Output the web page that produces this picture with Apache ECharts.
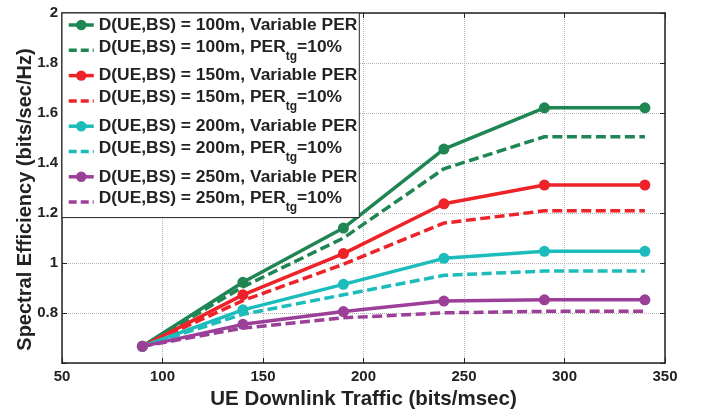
<!DOCTYPE html>
<html>
<head>
<meta charset="utf-8">
<script src="https://cdn.jsdelivr.net/npm/echarts@6/dist/echarts.min.js"></script>
<style>
  html, body { margin: 0; padding: 0; background: #fff; }
  #chart { width: 703px; height: 415px; }
</style>
</head>
<body>
<div id="chart"></div>
<script>
// x values (bits/msec)
var traffic = [90, 140, 190, 240, 290, 340];

// spectral efficiency, one array per curve
var d100Var = [0.667, 0.923, 1.140, 1.456, 1.621, 1.621];
var d100Tg  = [0.667, 0.905, 1.100, 1.377, 1.505, 1.505];
var d150Var = [0.667, 0.873, 1.038, 1.237, 1.312, 1.312];
var d150Tg  = [0.667, 0.850, 0.995, 1.160, 1.209, 1.209];
var d200Var = [0.667, 0.813, 0.915, 1.019, 1.047, 1.047];
var d200Tg  = [0.667, 0.795, 0.873, 0.951, 0.968, 0.968];
var d250Var = [0.667, 0.755, 0.806, 0.848, 0.853, 0.853];
var d250Tg  = [0.667, 0.740, 0.781, 0.801, 0.807, 0.807];

var distances = ['100m', '150m', '200m', '250m'];
var colors = ['#1e8553', '#ee2229', '#1cbcbc', '#9c3f98'];
var varData = [d100Var, d150Var, d200Var, d250Var];
var tgData = [d100Tg, d150Tg, d200Tg, d250Tg];

function pairs(ys) {
  return ys.map(function (y, i) { return [traffic[i], y]; });
}

var FONT = '"Liberation Sans", Arial, Helvetica, sans-serif';
var series = [];
var legendData = [];

for (var i = 0; i < distances.length; i++) {
  var nameVar = 'D(UE,BS) = ' + distances[i] + ', Variable PER';
  var nameTg = 'D(UE,BS) = ' + distances[i] + ', PER_tg=10%';
  series.push({
    name: nameVar,
    type: 'line',
    data: pairs(varData[i]),
    symbol: 'circle',
    symbolSize: 11,
    lineStyle: { color: colors[i], width: 3.5 },
    itemStyle: { color: colors[i] },
    animation: false
  });
  series.push({
    name: nameTg,
    type: 'line',
    data: pairs(tgData[i]),
    showSymbol: false,
    symbol: 'circle',
    lineStyle: { color: colors[i], width: 3.5, type: [10, 4.5] },
    itemStyle: { color: colors[i] },
    animation: false
  });
  legendData.push({ name: nameVar, lineStyle: { width: 3.5 } });
  // no dot on the dashed legend icon
  legendData.push({ name: nameTg, itemStyle: { opacity: 0 }, lineStyle: { width: 3.5, type: [8, 4] } });
}

var chart = echarts.init(document.getElementById('chart'));

var axisLineStyle = { color: '#222', width: 1.5 };
var labelStyle = { color: '#222', fontSize: 15, fontWeight: 'bold', fontFamily: FONT };

chart.setOption({
  animation: false,
  backgroundColor: '#fff',
  grid: { left: 62, right: 38, top: 13, bottom: 51 },
  legend: {
    data: legendData,
    orient: 'vertical',
    left: 62,
    top: 13,
    padding: [3, 2, 3.5, 5],
    itemGap: 4.3,
    itemWidth: 25,
    itemHeight: 13,
    backgroundColor: '#fff',
    borderColor: '#222',
    borderWidth: 1,
    borderRadius: 0,
    selectedMode: false,
    formatter: function (name) {
      if (name.indexOf('PER_tg') >= 0) {
        var parts = name.split('_tg');
        return '{m|' + parts[0] + '}{s|tg}{m|' + parts[1] + '}';
      }
      return name;
    },
    textStyle: {
      color: '#222',
      fontSize: 17.4,
      fontWeight: 'bold',
      fontFamily: FONT,
      lineHeight: 18,
      rich: {
        m: { fontSize: 17.4, fontWeight: 'bold', fontFamily: FONT, color: '#222', lineHeight: 18, verticalAlign: 'top' },
        s: { fontSize: 12, fontWeight: 'bold', fontFamily: FONT, color: '#222', lineHeight: 24, verticalAlign: 'bottom' }
      }
    }
  },
  xAxis: [{
    type: 'value',
    min: 50,
    max: 350,
    interval: 50,
    name: 'UE Downlink Traffic (bits/msec)',
    nameLocation: 'middle',
    nameGap: 24,
    nameTextStyle: { color: '#222', fontSize: 20.5, fontWeight: 'bold', fontFamily: FONT },
    axisLine: { show: true, onZero: false, lineStyle: axisLineStyle },
    axisTick: { show: true, inside: true, length: 5, lineStyle: { color: '#222' } },
    axisLabel: Object.assign({ margin: 6 }, labelStyle),
    splitLine: { show: true, lineStyle: { color: '#b5b5b5', type: 'dotted', width: 1 } }
  }, {
    type: 'value',
    position: 'top',
    min: 50,
    max: 350,
    interval: 50,
    axisLine: { show: true, onZero: false, lineStyle: axisLineStyle },
    axisTick: { show: true, inside: true, length: 5, lineStyle: { color: '#222' } },
    axisLabel: { show: false },
    splitLine: { show: false }
  }],
  yAxis: [{
    type: 'value',
    min: 0.6,
    max: 2,
    interval: 0.2,
    name: 'Spectral Efficiency (bits/sec/Hz)',
    nameLocation: 'middle',
    nameGap: 27,
    nameMoveOverlap: false,
    nameTextStyle: { color: '#222', fontSize: 20, fontWeight: 'bold', fontFamily: FONT, padding: [0, 23, 0, 0] },
    axisLine: { show: true, onZero: false, lineStyle: axisLineStyle },
    axisTick: { show: true, inside: true, length: 5, lineStyle: { color: '#222' } },
    axisLabel: Object.assign({
      margin: 4,
      formatter: function (v) {
        var r = Math.round(v * 10) / 10;
        return r === 0.6 ? '' : String(r);
      }
    }, labelStyle),
    splitLine: { show: true, lineStyle: { color: '#b5b5b5', type: 'dotted', width: 1 } }
  }, {
    type: 'value',
    position: 'right',
    min: 0.6,
    max: 2,
    interval: 0.2,
    axisLine: { show: true, onZero: false, lineStyle: axisLineStyle },
    axisTick: { show: true, inside: true, length: 5, lineStyle: { color: '#222' } },
    axisLabel: { show: false },
    splitLine: { show: false }
  }],
  series: series
});
</script>
</body>
</html>
